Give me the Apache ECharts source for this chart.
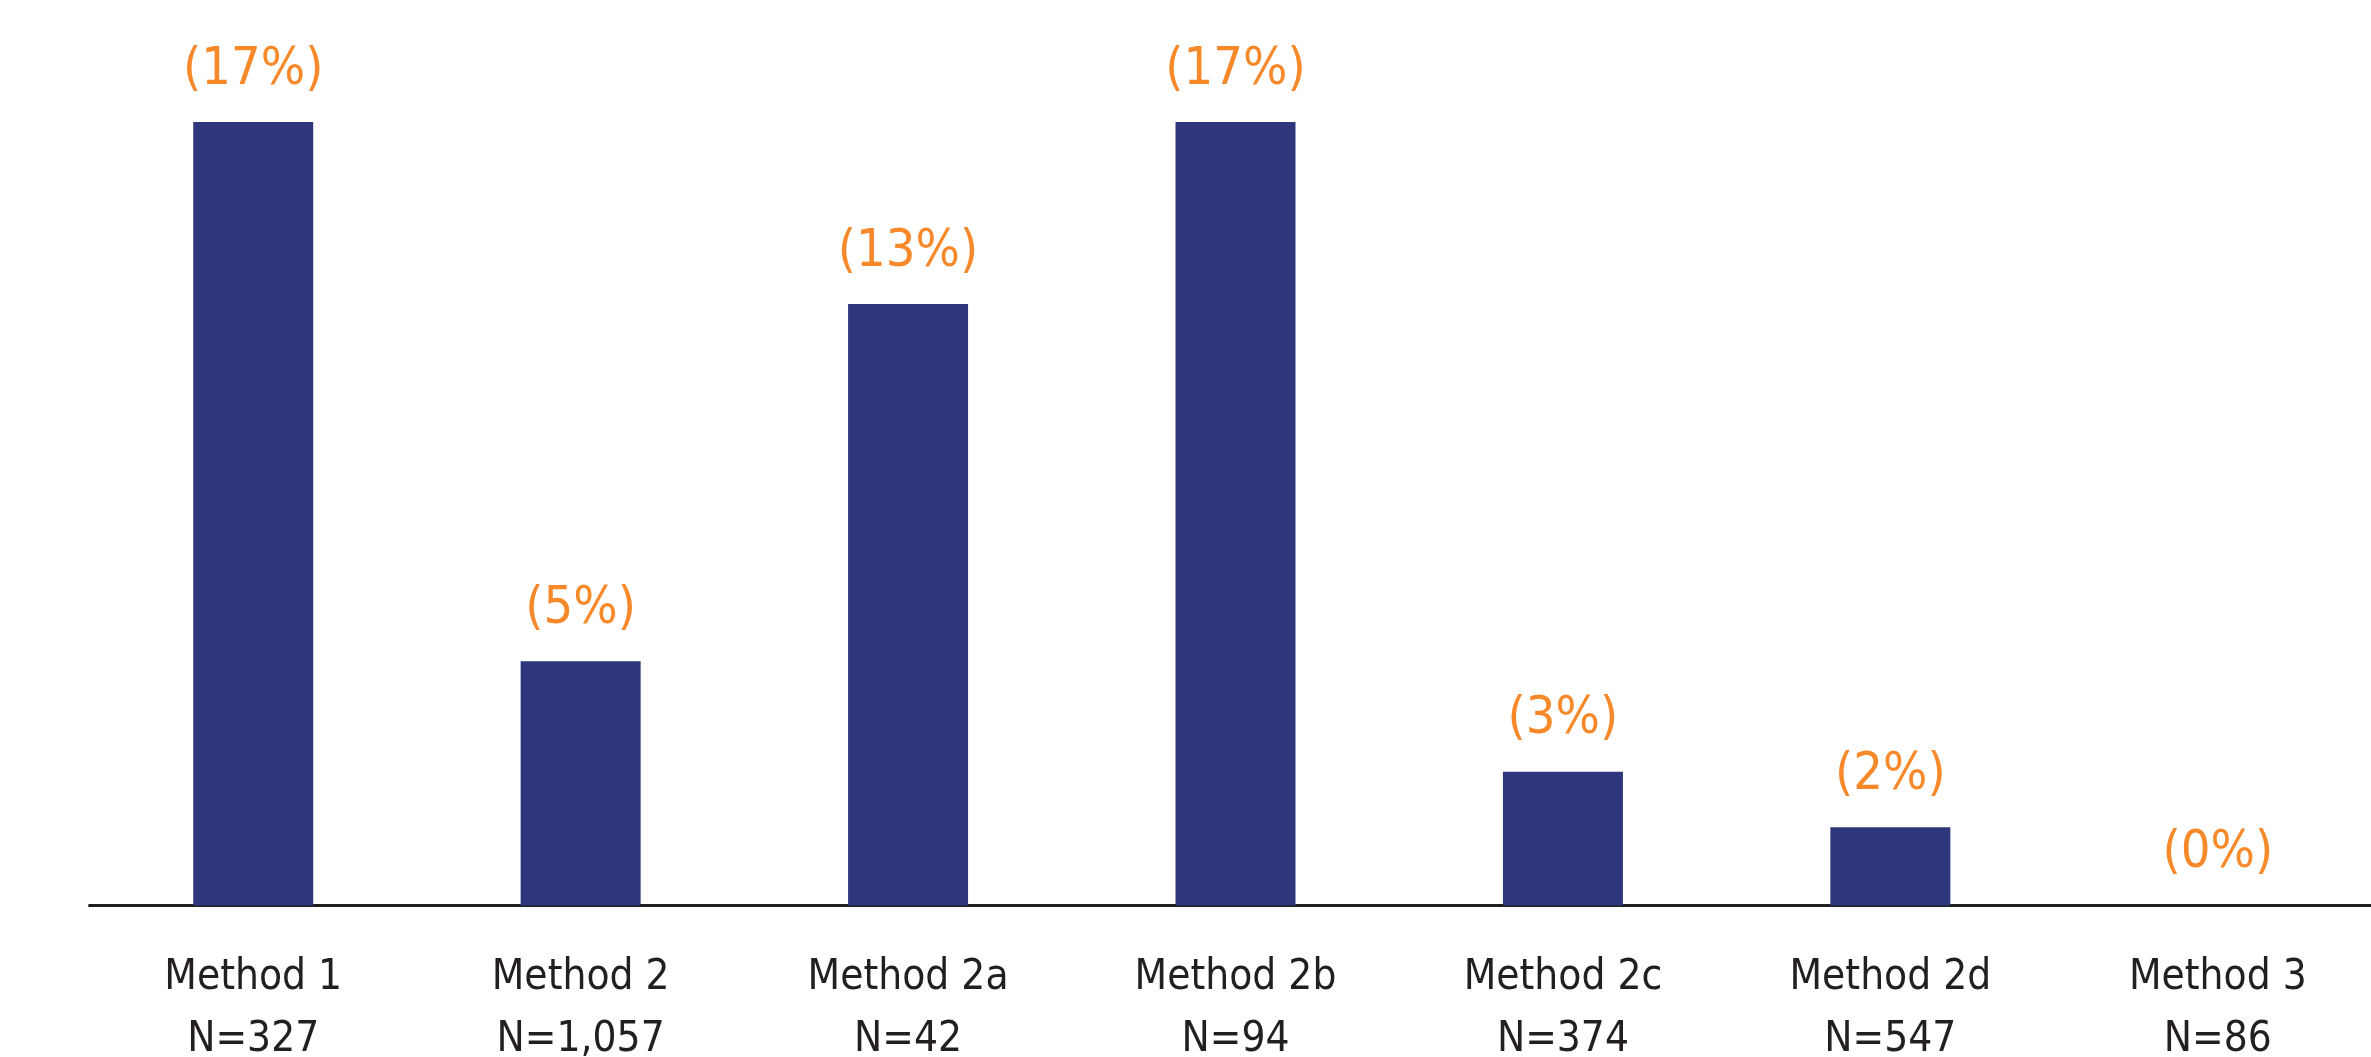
<!DOCTYPE html>
<html>
<head>
<meta charset="utf-8">
<script src="https://cdn.jsdelivr.net/npm/echarts@6/dist/echarts.min.js"></script>
<style>
html,body{margin:0;padding:0;background:#fff;}
#chart{width:2371px;height:1057px;}
</style>
</head>
<body>
<div id="chart"></div>
<script>
const methods = ["Method 1", "Method 2", "Method 2a", "Method 2b", "Method 2c", "Method 2d", "Method 3"];
const sampleSizes = ["N=327", "N=1,057", "N=42", "N=94", "N=374", "N=547", "N=86"];
const values = [17, 5.3, 13.05, 17, 2.9, 1.7, 0];
const pctLabels = ["(17%)", "(5%)", "(13%)", "(17%)", "(3%)", "(2%)", "(0%)"];

const categories = methods.map((m, i) => m + "\n" + sampleSizes[i]);
const condensed = '"Liberation Sans Narrow", "DejaVu Sans Condensed", "Roboto Condensed", "Noto Sans", sans-serif';

const chart = echarts.init(document.getElementById('chart'));
chart.setOption({
  backgroundColor: '#ffffff',
  animation: false,
  grid: { left: 89.5, width: 2292, top: 122, bottom: 151.5, containLabel: false, outerBoundsMode: 'none' },
  xAxis: {
    type: 'category',
    data: categories,
    axisLine: { show: true, lineStyle: { color: '#231f20', width: 3 } },
    axisTick: { show: false },
    axisLabel: {
      color: '#231f20',
      fontFamily: condensed,
      fontSize: 42,
      lineHeight: 62,
      margin: 42,
      interval: 0
    }
  },
  yAxis: {
    type: 'value',
    min: 0,
    max: 17,
    show: false,
    splitLine: { show: false }
  },
  series: [{
    type: 'bar',
    data: values,
    barWidth: 120,
    itemStyle: { color: '#2e377b' },
    label: {
      show: true,
      position: 'top',
      distance: 26,
      color: '#f7892a',
      fontFamily: condensed,
      fontSize: 52,
      formatter: p => pctLabels[p.dataIndex]
    }
  }]
});
</script>
</body>
</html>
